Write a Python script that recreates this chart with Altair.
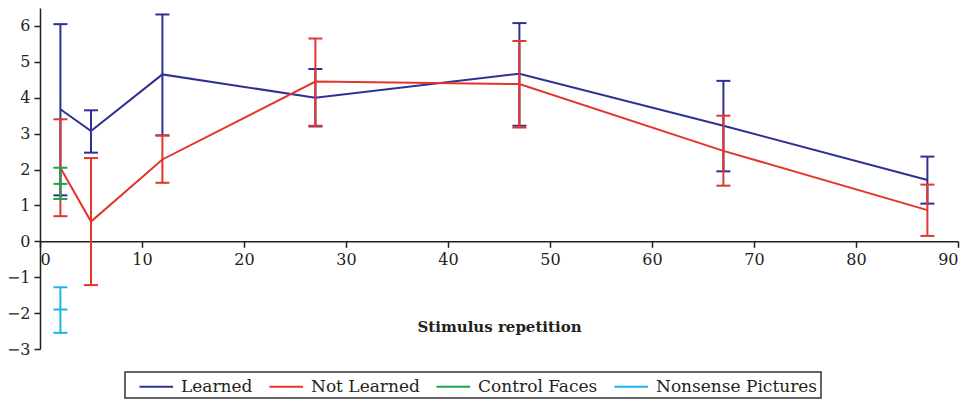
import altair as alt
import pandas as pd

series_names = ["Learned", "Not Learned", "Control Faces", "Nonsense Pictures"]
series_colors = ["#2E3192", "#E2352B", "#1DA34B", "#1BB5EC"]

reps = [2, 5, 12, 27, 47, 67, 87]
learned_mean = [3.68, 3.07, 4.65, 4.00, 4.67, 3.22, 1.71]
learned_hi = [6.05, 3.65, 6.32, 4.80, 6.08, 4.47, 2.36]
learned_lo = [1.28, 2.47, 2.95, 3.20, 3.22, 1.95, 1.05]

notlearned_mean = [2.05, 0.55, 2.28, 4.45, 4.38, 2.52, 0.87]
notlearned_hi = [3.40, 2.32, 2.95, 5.65, 5.58, 3.50, 1.58]
notlearned_lo = [0.70, -1.22, 1.63, 3.22, 3.17, 1.55, 0.15]

control_x = [2]
control_mean = [1.60]
control_hi = [2.05]
control_lo = [1.18]

nonsense_x = [2]
nonsense_mean = [-1.90]
nonsense_hi = [-1.28]
nonsense_lo = [-2.55]

x_ticks = list(range(0, 91, 10))
y_ticks = list(range(-3, 7))

FONT = "DejaVu Serif"

def frame(name, xs, m, hi, lo):
    return pd.DataFrame({"series": name, "x": xs, "mean": m, "hi": hi, "lo": lo})

frames = [
    frame("Learned", reps, learned_mean, learned_hi, learned_lo),
    frame("Not Learned", reps, notlearned_mean, notlearned_hi, notlearned_lo),
    frame("Control Faces", control_x, control_mean, control_hi, control_lo),
    frame("Nonsense Pictures", nonsense_x, nonsense_mean, nonsense_hi, nonsense_lo),
]

color = alt.Color(
    "series:N",
    scale=alt.Scale(domain=series_names, range=series_colors),
    legend=alt.Legend(title=None),
)
xenc = alt.X(
    "x:Q",
    scale=alt.Scale(domain=[0, 90], nice=False),
    axis=alt.Axis(
        values=x_ticks, offset=-107.7, title="Stimulus repetition",
        titleFontWeight="bold", titlePadding=52, grid=False,
    ),
)
yscale = alt.Scale(domain=[-3, 6.5], nice=False)
yaxis = alt.Axis(
    values=y_ticks, title=None, grid=False,
    labelExpr="datum.value < 0 ? '\u2212' + format(abs(datum.value), 'd') : format(datum.value, 'd')",
)

layers = []
for df in frames:
    base = alt.Chart(df)
    if len(df) > 1:
        layers.append(
            base.mark_line(strokeWidth=2).encode(
                x=xenc,
                y=alt.Y("mean:Q", scale=yscale, axis=yaxis),
                color=color,
            )
        )
    layers.append(
        base.mark_rule(strokeWidth=2).encode(
            x=xenc,
            y=alt.Y("lo:Q", scale=yscale, axis=yaxis),
            y2="hi:Q",
            color=color,
        )
    )
    caps = ["hi", "lo"] if len(df) > 1 else ["hi", "lo", "mean"]
    capdf = df.melt(id_vars=["series", "x"], value_vars=caps, value_name="v")
    layers.append(
        alt.Chart(capdf).mark_rule(strokeWidth=2, xOffset=-7, x2Offset=7).encode(
            x=xenc,
            x2="x:Q",
            y=alt.Y("v:Q", scale=yscale, axis=yaxis),
            color=color,
        )
    )

chart = (
    alt.layer(*layers)
    .properties(
        width=918, height=341, autosize="none",
        padding={"left": 40, "top": 8, "right": 16, "bottom": 53},
    )
    .configure_view(stroke=None)
    .configure_axis(
        labelFont=FONT, titleFont=FONT, labelFontSize=16, titleFontSize=15,
        labelColor="#231F20", titleColor="#231F20",
        domainColor="#231F20", tickColor="#231F20", domainWidth=1.5, tickWidth=1.5,
        tickSize=6, labelPadding=4,
    )
    .configure_legend(
        orient="none", legendX=85, legendY=364, direction="horizontal",
        strokeColor="#333333", strokeWidth=1.5, padding=3,
        symbolType="M0,0H3.2", symbolSize=441, symbolStrokeWidth=2,
        labelFont=FONT, labelFontSize=17, labelColor="#231F20", labelLimit=0,
        columnPadding=5, labelOffset=30, columns=4,
    )
)

chart.save("out.html", embed_options={"renderer": "svg", "actions": False})
